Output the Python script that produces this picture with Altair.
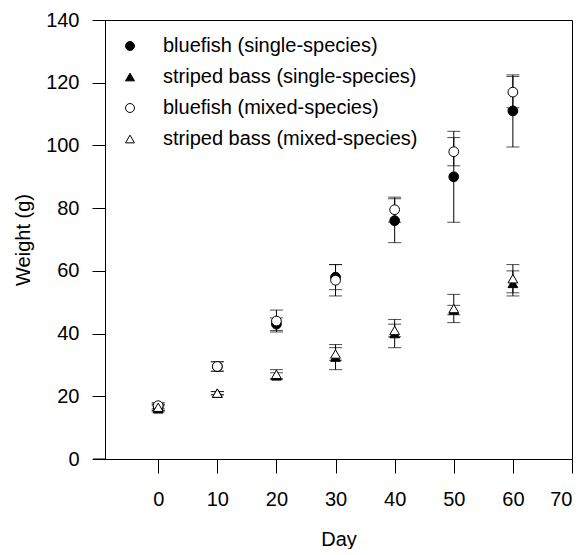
import altair as alt
import pandas as pd

series = [
    "bluefish (single-species)",
    "striped bass (single-species)",
    "bluefish (mixed-species)",
    "striped bass (mixed-species)",
]
days = [0, 10, 20, 30, 40, 50, 60]

bf_single = [16.5, 29.5, 43, 58, 76, 90, 111]
bf_single_err = [1, 1.5, 2, 4, 7, 14.5, 11.5]
sb_single = [16, 21, 26.5, 32.5, 40, 47.5, 56]
sb_single_err = [1, 0.5, 1, 4, 4.5, 1.5, 4]
bf_mixed = [17, 29.5, 44, 57, 79.5, 98, 117]
bf_mixed_err = [1, 1.5, 3.5, 5, 4, 4.5, 5]
sb_mixed = [16.5, 21, 27, 33.5, 41, 48, 57.5]
sb_mixed_err = [1, 0.5, 1.5, 2, 2, 4.5, 4.5]

shapes = ["circle", "triangle-up", "circle", "triangle-up"]
fills = ["black", "black", "white", "white"]
strokes = ["black", "black", "black", "black"]

rows = []
for name, vals, errs in zip(
    series,
    [bf_single, sb_single, bf_mixed, sb_mixed],
    [bf_single_err, sb_single_err, bf_mixed_err, sb_mixed_err],
):
    for d, v, e in zip(days, vals, errs):
        rows.append(dict(series=name, day=d, weight=v, lo=v - e, hi=v + e))
df = pd.DataFrame(rows)

FONT = "Liberation Sans"

xscale = alt.Scale(domain=[-9, 70], nice=False, zero=False)
yscale = alt.Scale(domain=[0, 140], nice=False)

x = alt.X(
    "day:Q",
    scale=xscale,
    axis=alt.Axis(
        values=list(range(0, 71, 10)),
        title="Day",
        tickSize=14,
        labelPadding=16,
        titlePadding=20,
    ),
)
y_axis = alt.Axis(
    values=list(range(0, 141, 20)),
    title="Weight (g)",
    tickSize=13,
    labelPadding=13,
    titlePadding=12,
)

base = alt.Chart(df)

bars = base.mark_rule(color="black", strokeWidth=1).encode(
    x=x,
    y=alt.Y("lo:Q", scale=yscale, axis=y_axis),
    y2="hi:Q",
)
caps_lo = base.mark_tick(color="black", orient="horizontal", size=13, thickness=1).encode(
    x=x, y=alt.Y("lo:Q", scale=yscale)
)
caps_hi = base.mark_tick(color="black", orient="horizontal", size=13, thickness=1).encode(
    x=x, y=alt.Y("hi:Q", scale=yscale)
)

legend = alt.Legend(
    title=None,
    orient="none",
    legendX=15,
    legendY=16,
    labelFontSize=20,
    labelFont=FONT,
    labelColor="black",
    labelLimit=0,
    symbolSize=80,
    symbolStrokeColor="black",
    symbolStrokeWidth=1,
    labelOffset=23,
    rowPadding=11,
    padding=0,
)

points = base.mark_point(filled=True, size=95, strokeWidth=1, opacity=1).encode(
    x=x,
    y=alt.Y("weight:Q", scale=yscale),
    shape=alt.Shape("series:N", scale=alt.Scale(domain=series, range=shapes), legend=legend),
    fill=alt.Fill("series:N", scale=alt.Scale(domain=series, range=fills), legend=legend),
    stroke=alt.Stroke("series:N", scale=alt.Scale(domain=series, range=strokes), legend=legend),
)

ext = alt.Chart(pd.DataFrame({"a": [0]})).mark_rule(color="black", strokeWidth=1).encode(
    x=alt.value(-12), x2=alt.value(0), y=alt.value(439)
)

chart = (
    alt.layer(bars, caps_lo, caps_hi, points, ext)
    .properties(
        width=467,
        height=439,
        autosize="none",
        padding={"left": 97, "top": 12, "right": 8, "bottom": 90},
    )
    .configure_view(stroke="black", strokeWidth=1)
    .configure_axis(
        grid=False,
        domainColor="black",
        tickColor="black",
        labelColor="black",
        titleColor="black",
        labelFont=FONT,
        titleFont=FONT,
        labelFontSize=20,
        titleFontSize=20,
        titleFontWeight="normal",
    )
)

chart.save("out.html", embed_options={"renderer": "svg", "actions": False})
